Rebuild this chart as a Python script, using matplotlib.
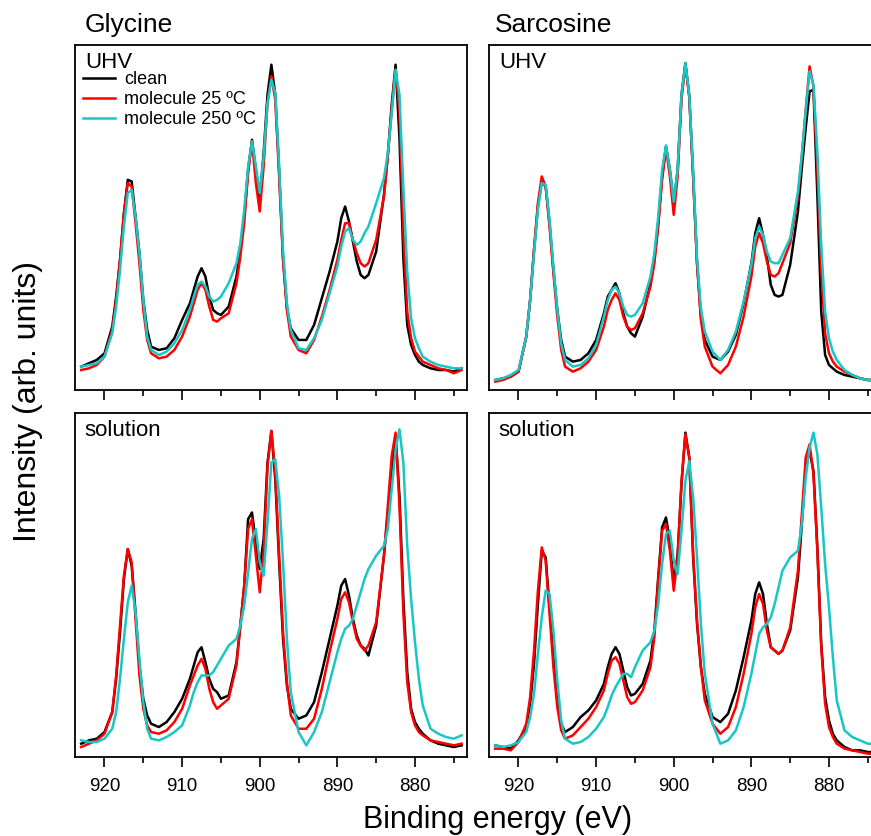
import matplotlib
matplotlib.use("Agg")
import matplotlib.pyplot as plt
from matplotlib.ticker import MultipleLocator

plt.rcParams['font.family'] = ['Liberation Sans', 'DejaVu Sans']

# binding energy grid (eV), shared by all spectra
energy = [923, 922, 921, 920, 919, 918.5, 918, 917.5, 917, 916.5, 916, 915.5, 915, 914.5, 914,
          913, 912, 911, 910, 909, 908.5, 908, 907.5, 907, 906.5, 906, 905.5, 905, 904, 903,
          902.5, 902, 901.5, 901, 900.5, 900, 899.5, 899, 898.5, 898, 897.5, 897, 896.5, 896,
          895, 894, 893, 892, 891, 890, 889.5, 889, 888.5, 888, 887.5, 887, 886.5, 886, 885, 884,
          883.5, 883, 882.5, 882, 881.5, 881, 880.5, 880, 879.5, 879, 878, 877, 876, 875, 874]

# Glycine, UHV
gly_uhv_clean = [7, 8, 9, 11, 19, 28, 39, 53, 63, 62.5, 52, 41, 27, 18, 13,
                 12, 12.5, 15.5, 21, 26, 30, 34, 36.5, 34, 28, 24, 23, 22.5, 25, 34,
                 42, 52, 66, 75, 66, 57, 71, 88.5, 97.5, 88.5, 65.5, 39.5, 24.5, 18.5,
                 15, 15, 19.5, 27.5, 35.5, 44.5, 51.5, 55, 50.5, 44.5, 38.5, 34.5, 33.5, 34.5, 41.5, 58.5,
                 70.5, 85.5, 97.5, 75.5, 39.5, 19.5, 13.5, 10.5, 8.5, 7.5, 6.5, 6, 6, 5.5, 6.5]
gly_uhv_25 = [6, 6.5, 7.5, 10, 18, 27, 39, 53, 62, 61, 50, 38, 24, 15, 11,
              9.5, 10, 12, 16, 22, 26, 30, 32, 30, 25, 21, 20.5, 21.5, 23, 32,
              40, 50, 65, 74.5, 62, 53.5, 67, 86, 94, 87, 64, 39, 24, 16,
              12, 11, 15, 22, 30, 39, 45, 50, 50, 45, 41, 38, 37, 38, 45, 58,
              70, 84, 96, 83.5, 47.5, 23.5, 15.5, 11.5, 10, 8.5, 7.5, 6.5, 6, 5, 6]
gly_uhv_250 = [7, 7.5, 8, 10, 17, 25, 36, 49, 59, 60, 52, 41, 27, 16, 12,
               10.5, 11.5, 14, 18, 24, 28, 31.5, 32.5, 31, 28, 26.5, 27, 28, 32, 38,
               44, 54, 67, 74.5, 67, 59, 70, 86, 93, 89, 67, 42, 26, 18,
               12.5, 12, 15.5, 21, 29, 37, 43, 47.5, 48.5, 45, 43.5, 44.5, 47, 49, 56, 63.5,
               71, 83, 96, 88.5, 60.5, 35.5, 21.5, 15.5, 12.5, 10, 8.5, 7.5, 7, 6.5, 6.5]

# Sarcosine, UHV
sar_uhv_clean = [3, 3.5, 4, 5.5, 16, 27, 42, 55, 62.5, 61, 50, 36, 24, 15, 10,
                 8.5, 9, 11, 15, 23, 28, 30, 32, 29, 23, 19, 17, 16, 22, 32,
                 39, 50, 64, 73, 66, 56, 66, 88.5, 98, 88, 64, 38, 22, 15,
                 10, 9, 11.5, 16.5, 26, 38, 47, 51.5, 46.5, 40, 31.5, 28.5, 28, 28.5, 37.5, 53.5,
                 66.5, 78.5, 89.5, 90, 58.5, 23.5, 10.5, 7.5, 6.5, 5.5, 4.5, 4, 3.5, 3, 3]
sar_uhv_25 = [2.5, 3, 4, 5.5, 16, 27, 42, 56, 64, 61, 49, 35, 22, 12, 7,
              5.5, 6.5, 8.5, 12, 19, 24, 27, 29, 27, 22, 19, 18, 18.5, 23, 31,
              38, 49, 63, 72.5, 64, 52.5, 64, 87, 97.5, 88, 64, 38, 21, 13,
              7, 5, 7.5, 13, 22, 34, 43, 47, 44, 38.5, 34.5, 34, 35, 38, 44, 58,
              70, 84, 97, 91, 66, 36, 17, 11, 8.5, 7, 5.5, 4.5, 3.5, 3, 3]
sar_uhv_250 = [3, 3.5, 4.5, 6, 16, 27, 41, 54, 62, 61.5, 51, 37, 24, 14, 9,
               7, 7.5, 9.5, 13.5, 22, 27, 30, 31, 29, 25, 22.5, 22, 22.5, 26, 34,
               41, 52, 66, 73.3, 66, 56.5, 66, 88.5, 98, 88.5, 65.5, 39.5, 24.5, 17.5,
               11.5, 9, 12, 17.5, 26.5, 37.5, 45.5, 49, 46.5, 41.5, 38.5, 38, 38, 40.5, 45.5, 59.5,
               70.5, 83.5, 95.5, 91.5, 71.5, 43.5, 23.5, 15.5, 11.5, 9, 6, 4.5, 3.5, 3, 3]

# Glycine, solution
gly_sol_clean = [4, 5, 5.5, 7.5, 13.5, 23.5, 37.5, 53.5, 62.5, 57.5, 43.5, 27.5, 17.5, 12.5, 10,
                 9, 10.5, 13.5, 17.5, 23.5, 27.5, 31.5, 33, 28.5, 23.5, 20.5, 19.5, 17.5, 18.5, 28.5,
                 39.5, 51.5, 71.5, 73.5, 64.5, 56.5, 65.5, 88.5, 98, 83.5, 58.5, 35.5, 21.5, 14.5,
                 11.5, 12.5, 16.5, 25.5, 35.5, 45.5, 51.5, 53.5, 48.5, 41.5, 36.5, 33.5, 32.5, 30.5, 39.5, 60.5,
                 73.5, 86.5, 96.5, 78.5, 47.5, 25.5, 14.5, 10.5, 8.5, 7, 5, 4, 3.5, 3, 3.5]
gly_sol_25 = [3, 4, 5, 7, 13.5, 24.5, 39.5, 54.5, 62.5, 58.5, 41.5, 24.5, 14.5, 9.5, 7.5,
              7, 8, 10.5, 14.5, 21.5, 24.5, 27.5, 29.5, 26.5, 20.5, 16.5, 14.5, 15.5, 17.5, 27.5,
              39.5, 51.5, 68.5, 71.5, 60.5, 49.5, 61.5, 87.5, 98, 85.5, 60.5, 37.5, 22.5, 12.5,
              8.5, 8.5, 11.5, 20.5, 31.5, 41.5, 47.5, 49.5, 46.5, 40.5, 35.5, 33.5, 32, 33.5, 40.5, 60.5,
              75.5, 90.5, 97.5, 75.5, 43.5, 22.5, 13.5, 9.5, 7.5, 6.5, 5, 4.5, 4, 3.5, 4]
gly_sol_250 = [5, 4.5, 4.5, 5.5, 8.5, 13.5, 23.5, 35.5, 46.5, 51.5, 43.5, 29.5, 16.5, 8.5, 5.5,
               5, 6, 7.5, 9.5, 15.5, 19.5, 22.5, 24.5, 24.5, 24.5, 25.5, 27.5, 29.5, 33.5, 35.5,
               39.5, 45.5, 55.5, 65.5, 68.5, 58.5, 54.5, 70.5, 88.5, 89.5, 78.5, 58.5, 35.5, 19.5,
               7.5, 3.5, 7.5, 13.5, 22.5, 31.5, 35.5, 38.5, 39.5, 41.5, 45.5, 49.5, 53.5, 56.5, 60.5, 63.5,
               68.5, 80.5, 92.5, 98.5, 88.5, 63.5, 47.5, 34.5, 23.5, 15.5, 8.5, 7, 6, 5.5, 6.5]

# Sarcosine, solution
sar_sol_clean = [3.5, 3, 2.5, 5, 9, 16, 28, 46, 62, 60, 45, 30, 17, 10, 7.5,
                 9, 12, 14, 17, 22, 27, 31, 33, 31, 26, 21, 18.5, 19, 22, 29,
                 38, 54, 69, 72, 65, 52, 61, 82, 97.5, 90, 60, 40, 27, 19,
                 12, 10.5, 13, 20, 30, 41, 49, 52.5, 49, 40, 33, 32, 31, 32, 38, 54,
                 70, 87, 92, 86, 63, 34, 18, 11, 7, 5, 3, 2, 2, 1.5, 1.5]
sar_sol_25 = [2.5, 2.5, 2, 4.5, 10, 18, 32, 50, 63, 59, 43, 27, 15, 8, 5.5,
              6.5, 9, 11.5, 15, 20, 25, 29, 30, 28, 23, 18, 16, 16.5, 20, 27,
              36, 53, 68, 70, 62, 50, 60, 83, 97, 90, 61, 41, 27, 17,
              10, 7, 9, 15, 25, 37, 45, 49, 46, 38, 33, 32, 31, 32, 39, 56,
              73, 90, 94, 85, 62, 33, 16, 9, 6, 4, 2.5, 2, 1.5, 1, 1]
sar_sol_250 = [3.5, 3, 3.5, 4.5, 7.5, 12, 19, 31, 42, 50, 49, 38, 23, 11, 5.5,
               4, 4.5, 6, 8.5, 12, 15, 18.5, 21, 23, 25, 25, 24, 27, 32, 34.5,
               38, 46, 58, 67, 68, 59, 55, 68, 83, 89, 78, 60, 40, 25,
               10, 4, 5, 8, 15, 25, 31, 37, 39, 40, 42, 46, 51, 56, 60, 62,
               70, 84, 93, 97.5, 91, 75, 58, 45, 30, 17, 8, 6, 5, 4, 4]

labels = ['clean', 'molecule 25 ºC', 'molecule 250 ºC']
colors = ['black', '#ff0000', '#19c6c6']

fig = plt.figure(figsize=(8.71, 8.36), dpi=100)

W, H = 871.0, 836.0
# panel boxes in pixels: left, top, width, height
boxes = {
    'gly_uhv': (75, 45, 392, 345),
    'sar_uhv': (489, 45, 392, 345),
    'gly_sol': (75, 413, 392, 344),
    'sar_sol': (489, 413, 392, 344),
}
panels = {
    'gly_uhv': [gly_uhv_clean, gly_uhv_25, gly_uhv_250],
    'sar_uhv': [sar_uhv_clean, sar_uhv_25, sar_uhv_250],
    'gly_sol': [gly_sol_clean, gly_sol_25, gly_sol_250],
    'sar_sol': [sar_sol_clean, sar_sol_25, sar_sol_250],
}
tags = {'gly_uhv': 'UHV', 'sar_uhv': 'UHV', 'gly_sol': 'solution', 'sar_sol': 'solution'}

axes = {}
for key, (l, t, w, h) in boxes.items():
    ax = fig.add_axes([l / W, 1 - (t + h) / H, w / W, h / H])
    for ys, c, lab in zip(panels[key], colors, labels):
        ax.plot(energy, ys, color=c, lw=1.8, label=lab, solid_joinstyle='round')
    ax.set_xlim(923.8, 873.3)
    ax.set_ylim(0, 103.4)
    ax.set_yticks([])
    ax.xaxis.set_major_locator(MultipleLocator(10))
    ax.xaxis.set_minor_locator(MultipleLocator(5))
    ax.tick_params(axis='x', which='major', direction='out', length=7, width=1.2,
                   labelsize=13.5, pad=8)
    ax.tick_params(axis='x', which='minor', direction='out', length=4, width=1.2)
    for s in ax.spines.values():
        s.set_linewidth(1.3)
    if 'uhv' in key:
        ax.tick_params(axis='x', labelbottom=False)
    ax.text(0.025, 0.95, tags[key], transform=ax.transAxes, fontsize=16,
            ha='left', va='center')
    axes[key] = ax

axes['gly_uhv'].legend(loc='upper left', bbox_to_anchor=(0.02, 0.925), frameon=False,
                       fontsize=13, handlelength=1.8, handletextpad=0.5,
                       labelspacing=0.17, borderpad=0, borderaxespad=0)

fig.text(85 / W, 1 - 25 / H, 'Glycine', fontsize=19, ha='left', va='center')
fig.text(495 / W, 1 - 25 / H, 'Sarcosine', fontsize=19, ha='left', va='center')
fig.text(28 / W, 1 - 402 / H, 'Intensity (arb. units)', fontsize=23, rotation=90,
         ha='center', va='center')
fig.text(498 / W, 1 - 820 / H, 'Binding energy (eV)', fontsize=22, ha='center', va='center')

fig.savefig('out.png', dpi=100)
